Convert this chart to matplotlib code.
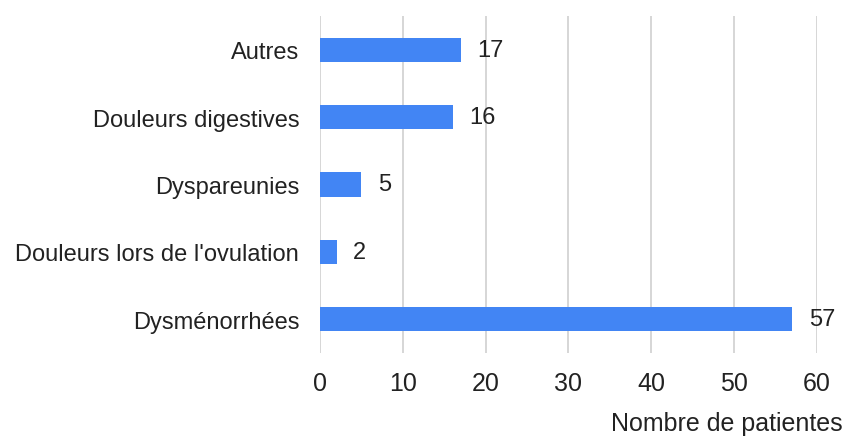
import matplotlib.pyplot as plt

plt.rcParams['font.family'] = ['Liberation Sans', 'DejaVu Sans']

categories = ["Dysménorrhées", "Douleurs lors de l'ovulation", "Dyspareunies",
              "Douleurs digestives", "Autres"]
patientes = [57, 2, 5, 16, 17]
xticks = [0, 10, 20, 30, 40, 50, 60]

fig = plt.figure(figsize=(8.45, 4.39), dpi=100)
ax = fig.add_axes([320/845, 1-354/439, (817-320)/845, (354-17)/439])

ax.barh(range(len(categories)), patientes, height=0.36, color='#4285F4', zorder=3)
for i, v in enumerate(patientes):
    ax.annotate(str(v), (v, i), xytext=(12, 0), textcoords='offset points',
                va='center', ha='left', fontsize=17, color='#222222')

ax.set_xlim(0, 60)
ax.set_ylim(-0.5, 4.5)
ax.set_xticks(xticks)
ax.set_yticks(range(len(categories)))
ax.set_yticklabels(categories)
ax.tick_params(axis='both', length=0, colors='#222222')
ax.tick_params(axis='x', pad=13, labelsize=18)
ax.tick_params(axis='y', pad=15, labelsize=17)
ax.grid(axis='x', color='#d0d0d0', linewidth=1.2, zorder=0)
for s in ax.spines.values():
    s.set_visible(False)

fig.text(843/845, 1-424/439, "Nombre de patientes", ha='right', va='center',
         fontsize=18, color='#222222')

fig.savefig('out.png', dpi=100)
